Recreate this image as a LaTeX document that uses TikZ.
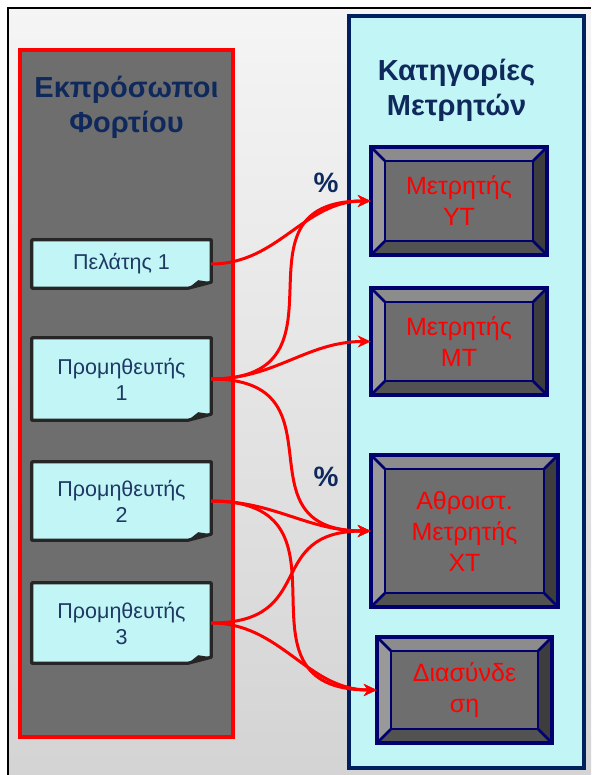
\documentclass[tikz,border=0pt]{standalone}
\usepackage{fontspec}
\setmainfont{Liberation Sans}
\usetikzlibrary{arrows.meta,positioning}

\definecolor{titleblue}{HTML}{10295C}
\definecolor{noteblue}{HTML}{1F3864}
\definecolor{panelgray}{HTML}{6E6E6E}
\definecolor{notecyan}{HTML}{C2F6F6}
\definecolor{framenavy}{HTML}{002060}
\definecolor{btnnavy}{HTML}{00006E}

\begin{document}
\begin{tikzpicture}[
  x=1pt, y=-1pt,
  panel/.style={inner sep=0pt},
  title/.style={text=titleblue, font=\bfseries\fontsize{29}{35}\selectfont, align=center},
  note/.style={fill=notecyan, minimum width=179pt, inner sep=0pt, align=center,
    text=noteblue, font=\fontsize{21.5}{26}\selectfont},
  meter/.style={fill=panelgray, inner sep=0pt, align=center,
    text=red, font=\fontsize{25}{31}\selectfont},
  pct/.style={text=titleblue, font=\bfseries\fontsize{28}{30}\selectfont},
  arrow/.style={-{Stealth[length=13pt,width=12pt,inset=4pt]}, red, line width=3pt}
]
\useasboundingbox (0,0) rectangle (591,775);
\shade[top color=black!4, bottom color=black!17] (8,8) rectangle (591,775);
\draw[line width=2.5pt] (8,775) -- (8,8) -- (591,8);

% the two columns
\node[panel, draw=red, line width=4pt, fill=panelgray, minimum width=213pt, minimum height=687pt]
  (load) at (126.5,393.5) {};
\node[panel, draw=framenavy, line width=4.5pt, fill=notecyan, minimum width=235pt, minimum height=752pt]
  (cat) at (466.5,392) {};
\node[title, below=25pt of load.north] (loadtitle) {Εκπρόσωποι\\Φορτίου};
\node[title, below=42pt of cat.north, xshift=-10pt] (cattitle) {Κατηγορίες\\Μετρητών};

% load representatives
\node[note, minimum height=48pt] (pel1) at (121.5,264) {Πελάτης 1};
\node[note, minimum height=82pt] (pro1) at (121.5,379) {Προμηθευτής\\1};
\node[note, minimum height=78pt] (pro2) at (121.5,501) {Προμηθευτής\\2};
\node[note, minimum height=80pt] (pro3) at (121.5,623) {Προμηθευτής\\3};

\foreach \n in {pel1,pro1,pro2,pro3} {
  \fill[panelgray] (\n.south east) -- ([xshift=-23pt]\n.south east) -- ([yshift=6pt]\n.south east) -- cycle;
  \draw[black!85, line width=3.2pt, line join=round] (\n.north west) -- (\n.north east)
    -- ([yshift=6pt]\n.south east) -- ([xshift=-23pt]\n.south east) -- (\n.south west) -- cycle;
  \fill[black!85] ([xshift=-23pt]\n.south east) -- ([xshift=-13pt,yshift=8pt]\n.south east)
    -- ([yshift=6pt]\n.south east) -- cycle;
}

% meter categories
\node[meter, minimum width=176pt, minimum height=108pt] (yt) at (459,201) {Μετρητής\\ΥΤ};
\node[meter, minimum width=176pt, minimum height=107pt] (mt) at (459,341.5) {Μετρητής\\ΜΤ};
\node[meter, minimum width=187pt, minimum height=152pt] (xt) at (464.5,531) {Αθροιστ.\\Μετρητής\\ΧΤ};
\node[meter, minimum width=175pt, minimum height=106pt] (dia) at (464.5,690) {Διασύνδε\\ση};

\foreach \m in {yt,mt,xt,dia} {
  \fill[black!45] (\m.north west) -- (\m.north east) -- ([xshift=-14pt,yshift=-14pt]\m.north east)
    -- ([xshift=14pt,yshift=-14pt]\m.north west) -- cycle;
  \fill[black!76] (\m.north east) -- (\m.south east) -- ([xshift=-14pt,yshift=14pt]\m.south east)
    -- ([xshift=-14pt,yshift=-14pt]\m.north east) -- cycle;
  \fill[black!68] (\m.south east) -- (\m.south west) -- ([xshift=14pt,yshift=14pt]\m.south west)
    -- ([xshift=-14pt,yshift=14pt]\m.south east) -- cycle;
  \fill[black!40] (\m.south west) -- (\m.north west) -- ([xshift=14pt,yshift=-14pt]\m.north west)
    -- ([xshift=14pt,yshift=14pt]\m.south west) -- cycle;
  \draw[btnnavy, line width=2.5pt] ([xshift=14pt,yshift=-14pt]\m.north west)
    rectangle ([xshift=-14pt,yshift=14pt]\m.south east);
  \draw[btnnavy, line width=2.5pt] (\m.north west) -- ([xshift=14pt,yshift=-14pt]\m.north west)
    (\m.north east) -- ([xshift=-14pt,yshift=-14pt]\m.north east)
    (\m.south east) -- ([xshift=-14pt,yshift=14pt]\m.south east)
    (\m.south west) -- ([xshift=14pt,yshift=14pt]\m.south west);
  \draw[btnnavy, line width=3.5pt] (\m.north west) rectangle (\m.south east);
}

\node[pct] (pct1) at (326,183) {\%};
\node[pct] (pct2) at (326,477) {\%};

\draw[arrow] (pel1.east) to[out=0, in=180] (yt.west);
\draw[arrow] (pro1.east) to[out=0, in=180, looseness=1.6] (yt.west);
\draw[arrow] (pro1.east) to[out=0, in=180] (mt.west);
\draw[arrow] (pro1.east) to[out=0, in=180, looseness=1.6] (xt.west);
\draw[arrow] (pro2.east) to[out=0, in=180] (xt.west);
\draw[arrow] (pro2.east) to[out=0, in=180, looseness=1.6] (dia.west);
\draw[arrow] (pro3.east) to[out=0, in=180, looseness=1.5] (xt.west);
\draw[arrow] (pro3.east) to[out=0, in=180] (dia.west);
\end{tikzpicture}
\end{document}
